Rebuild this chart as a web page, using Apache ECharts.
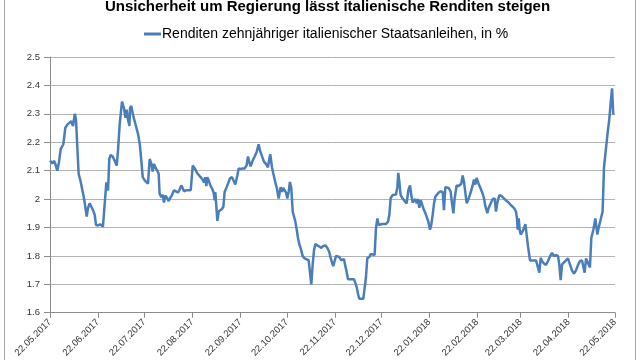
<!DOCTYPE html>
<html>
<head>
<meta charset="utf-8">
<script src="https://cdn.jsdelivr.net/npm/echarts@6/dist/echarts.min.js"></script>
<style>
html,body{margin:0;padding:0;background:#fff;}
#chart{width:640px;height:360px;}
</style>
</head>
<body>
<div id="chart"></div>
<script>
// Chart text
const titleText = 'Unsicherheit um Regierung lässt italienische Renditen steigen';
const seriesName = 'Renditen zehnjähriger italienischer Staatsanleihen, in %';

// X tick labels (monthly dates) and their day offsets from 22.05.2017
const tickLabels = ['22.05.2017','22.06.2017','22.07.2017','22.08.2017','22.09.2017','22.10.2017','22.11.2017','22.12.2017','22.01.2018','22.02.2018','22.03.2018','22.04.2018','22.05.2018'];
const tickDays = [0,31,61,92,123,153,184,214,245,276,304,335,365];

// Observations: day offset from 22.05.2017 and yield in %
const days = [
0,1.7,2.6,3.4,4.7,5.8,6.9,7.8,8.6,9.9,11.2,12.5,13.8,14.9,16.0,16.8,17.7,18.5,19.6,20.7,21.8,22.8,23.7,24.5,25.6,26.7,27.8,28.9,29.7,31.0,32.3,33.2,34.2,35.3,36.4,37.5,38.3,39.2,40.5,41.8,43.1,44.0,45.0,46.5,47.8,48.7,49.5,50.4,51.3,51.7,52.5,53.6,54.7,55.8,56.9,58.0,59.1,59.9,61.2,62.2,63.3,64.4,65.5,66.3,67.2,68.0,69.3,70.2,70.8,71.9,72.8,73.6,74.5,
75.6,76.7,77.7,78.8,80.1,81.4,82.7,83.5,84.8,85.7,86.6,87.9,89.1,90.9,92.2,93.0,93.9,95.0,96.0,97.3,98.6,99.5,100.3,101.0,101.6,102.5,103.6,104.7,105.7,106.4,106.8,107.4,108.1,109.0,110.0,111.1,112.0,112.8,114.1,115.4,116.3,117.6,118.7,119.7,121.0,121.9,123.2,124.5,125.8,127.0,127.9,128.8,129.6,130.9,132.2,133.5,134.8,135.7,137.0,138.2,139.5,140.8,141.7,142.3,143.4,144.3,145.6,146.6,147.7,
149.0,149.9,150.7,151.6,152.5,153.3,154.2,155.0,155.9,156.8,157.6,158.5,159.4,160.2,161.1,161.9,163.2,164.5,165.8,167.1,168.0,168.8,169.7,170.5,171.4,172.7,174.0,175.3,176.6,177.9,179.2,180.4,181.3,182.2,183.0,183.9,184.8,185.6,186.9,188.2,189.1,189.9,190.8,191.6,192.5,193.8,195.1,196.4,197.2,198.1,199.0,199.8,201.1,202.4,203.3,204.1,205.0,206.3,207.2,208.4,209.7,210.6,211.5,212.3,213.2,214.5,215.8,217.1,218.4,219.2,220.1,221.4,
222.2,223.5,224.4,225.0,225.7,226.5,227.8,229.1,230.4,231.5,232.6,233.4,234.3,235.1,236.0,236.9,237.7,238.6,239.5,240.3,241.2,242.3,243.3,244.4,245.5,246.3,247.2,248.1,248.9,249.8,251.1,252.4,253.7,254.5,255.4,256.2,257.5,258.8,259.7,260.6,261.4,262.7,264.0,264.9,265.7,266.6,267.4,268.3,269.2,270.5,271.3,272.2,273.0,273.9,274.8,275.6,276.9,278.2,279.5,280.4,281.2,282.5,283.4,284.7,286.0,287.3,288.1,289.0,290.3,291.6,292.9,294.1,295.0,
296.3,297.6,298.9,300.2,301.0,301.7,302.1,302.8,303.4,304.1,305.3,306.2,307.1,307.9,308.8,310.1,311.4,312.7,314.0,315.2,316.1,317.0,317.8,319.1,320.4,321.7,323.0,324.3,325.6,326.9,328.2,329.0,329.9,330.8,332.0,333.3,334.6,335.9,337.2,338.5,339.8,341.1,342.4,343.7,344.5,345.4,346.3,347.5,348.8,349.7,351.0,352.3,353.6,354.4,355.7,357.0,357.9,358.7,359.6,360.5,361.3,362.2,363.1,363.9
];
const yields = [
2.135,2.125,2.135,2.125,2.100,2.130,2.176,2.182,2.193,2.251,2.262,2.268,2.274,2.257,2.300,2.280,2.176,2.089,2.066,2.037,2.008,1.973,1.938,1.967,1.985,1.973,1.961,1.944,1.909,1.907,1.911,1.907,1.903,1.897,2.059,2.030,2.141,2.155,2.150,2.135,2.118,2.176,2.262,2.343,2.320,2.286,2.315,2.280,2.257,2.320,2.328,2.297,2.274,2.251,2.228,2.193,2.129,2.077,2.066,2.062,2.054,2.141,2.124,2.097,2.124,2.112,2.100,2.089,2.019,2.007,2.015,1.988,2.013,
2.004,1.993,2.004,2.014,2.031,2.027,2.023,2.031,2.048,2.039,2.027,2.031,2.031,2.031,2.118,2.112,2.104,2.092,2.085,2.077,2.069,2.058,2.077,2.046,2.077,2.066,2.048,2.037,2.023,1.996,2.025,1.979,1.923,1.956,1.961,1.965,1.973,2.025,2.042,2.060,2.074,2.077,2.071,2.051,2.083,2.108,2.106,2.108,2.108,2.118,2.150,2.129,2.115,2.135,2.150,2.166,2.193,2.170,2.150,2.132,2.124,2.112,2.141,2.158,2.112,2.089,2.058,2.037,2.002,
2.042,2.025,2.039,2.037,2.023,2.002,2.027,2.060,2.037,1.956,1.950,1.921,1.892,1.863,1.840,1.828,1.800,1.791,1.788,1.784,1.782,1.700,1.770,1.817,1.842,1.837,1.833,1.828,1.835,1.837,1.828,1.814,1.793,1.776,1.764,1.782,1.800,1.807,1.796,1.784,1.780,1.789,1.764,1.745,1.718,1.718,1.718,1.718,1.712,1.691,1.666,1.649,1.649,1.649,1.652,1.724,1.793,1.796,1.807,1.803,1.803,1.898,1.932,1.909,1.912,1.912,1.912,1.912,1.921,1.944,2.004,2.014,
2.014,2.016,2.042,2.092,2.060,2.014,2.002,1.993,1.985,2.031,2.048,2.014,1.988,1.993,2.000,1.985,2.000,1.969,1.996,1.990,1.967,1.953,1.938,1.921,1.892,1.909,1.944,1.985,2.008,2.014,2.023,2.027,2.025,1.961,2.042,2.046,2.039,2.027,1.985,1.950,2.002,2.048,2.046,2.039,2.054,2.083,2.062,2.060,1.985,2.002,2.016,2.031,2.048,2.069,2.051,2.074,2.054,2.037,2.019,2.002,1.976,1.950,1.969,1.985,2.000,2.002,1.956,1.988,2.014,2.011,2.004,2.002,1.993,
1.988,1.979,1.973,1.965,1.956,1.932,1.892,1.932,1.892,1.875,1.886,1.898,1.912,1.875,1.834,1.784,1.784,1.784,1.784,1.786,1.741,1.793,1.782,1.773,1.768,1.782,1.798,1.811,1.799,1.803,1.799,1.770,1.715,1.770,1.776,1.784,1.791,1.770,1.749,1.738,1.749,1.768,1.782,1.784,1.784,1.741,1.791,1.776,1.759,1.863,1.892,1.932,1.875,1.898,1.927,1.956,2.112,2.118,2.200,2.245,2.280,2.338,2.390,2.297
];

const chart = echarts.init(document.getElementById('chart'), null, {renderer: 'canvas'});
const labelFont = 'Liberation Sans, Arial, sans-serif';

chart.setOption({
  animation: false,
  backgroundColor: '#ffffff',
  title: {
    text: titleText,
    left: 100,
    top: -6,
    textStyle: {fontFamily: labelFont, fontSize: 15, fontWeight: 'bold', color: '#000000'}
  },
  legend: {
    top: 22,
    left: 139,
    icon: 'rect',
    itemWidth: 17,
    itemHeight: 3,
    itemGap: 10,
    textStyle: {fontFamily: labelFont, fontSize: 14, color: '#000000', padding: [0,0,0,-4]},
    data: [seriesName]
  },
  graphic: [{
    type: 'rect',
    shape: {x: 4.5, y: -10, width: 631, height: 380},
    style: {fill: null, stroke: '#a6a6a6', lineWidth: 1},
    silent: true,
    z: -1
  }],
  grid: {left: 50, right: 25, top: 57, bottom: 44, containLabel: false},
  xAxis: {
    type: 'value',
    min: 0,
    max: 365,
    axisLine: {show: true, lineStyle: {color: '#8c8c8c', width: 1}},
    axisTick: {show: true, length: 5, lineStyle: {color: '#8c8c8c'}, customValues: tickDays},
    axisLabel: {
      customValues: tickDays,
      rotate: 45,
      margin: 8,
      fontFamily: labelFont,
      fontSize: 9.5,
      color: '#333333',
      formatter: function (v) {
        const i = tickDays.indexOf(Math.round(v));
        return i >= 0 ? tickLabels[i] : '';
      }
    },
    splitLine: {show: false}
  },
  yAxis: {
    type: 'value',
    min: 1.6,
    max: 2.5,
    interval: 0.1,
    axisLine: {show: true, lineStyle: {color: '#8c8c8c', width: 1}},
    axisTick: {show: true, inside: false, length: 6, lineStyle: {color: '#8c8c8c'}},
    axisLabel: {
      margin: 10,
      fontFamily: labelFont,
      fontSize: 9.5,
      color: '#333333',
      formatter: function (v) { return String(Math.round(v * 10) / 10); }
    },
    splitLine: {show: true, lineStyle: {color: '#b3b3b3', width: 1}}
  },
  series: [{
    name: seriesName,
    type: 'line',
    showSymbol: false,
    symbol: 'none',
    smooth: false,
    lineStyle: {color: '#4a7ebb', width: 2.5},
    itemStyle: {color: '#4a7ebb'},
    data: days.map((d, i) => [d, yields[i]])
  }]
});
</script>
</body>
</html>
